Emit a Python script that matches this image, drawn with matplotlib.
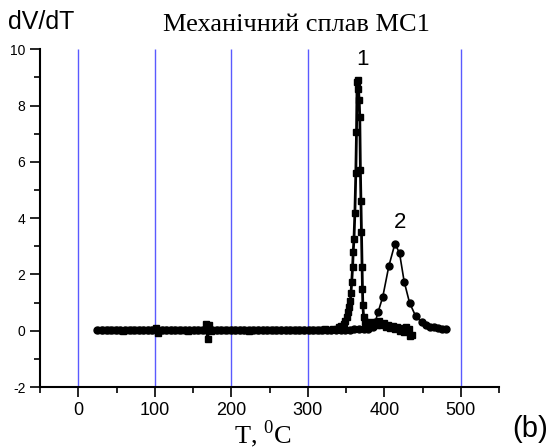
import numpy as np
import matplotlib
matplotlib.use('Agg')
import matplotlib.pyplot as plt
from matplotlib.ticker import MultipleLocator

# curve 1 (squares)
t1 = [28, 33, 38, 43, 48, 53, 58, 63, 68, 73, 78, 83, 88, 93, 98, 101, 104, 108, 113, 118,
      123, 128, 133, 138, 143, 148, 153, 158, 163, 167, 169, 171, 173, 178, 183, 188, 193, 198,
      203, 208, 213, 218, 223, 228, 233, 238, 243, 248, 253, 258, 263, 268, 273, 278, 283,
      288, 293, 298, 303, 308, 313, 318, 323, 328, 333, 338,
      341, 344, 347, 349, 351, 353, 354.5, 355.5, 356.5, 357.5, 358.6, 359.4, 360.4, 361.6,
      362.8, 363.7, 364.5, 365.3, 366.2, 367.2, 368, 368.8, 369.5, 370.2, 371, 371.5, 372,
      373, 375, 378, 381, 384, 387, 390, 393, 396, 399, 402, 405, 408, 411, 414, 417, 420,
      423, 426, 429, 432, 434, 436]
v1 = [0.02, 0.03, 0.02, 0.01, 0.03, 0.02, 0.0, 0.02, 0.03, 0.01, 0.02, 0.03, 0.01, 0.02, 0.04, 0.1, -0.08, 0.02, 0.01, 0.03,
      0.02, 0.01, 0.03, 0.02, 0.0, 0.02, 0.03, 0.01, 0.02, 0.25, -0.3, 0.2, 0.0, 0.02, 0.01, 0.03, 0.02, 0.01,
      0.02, 0.03, 0.01, 0.02, 0.0, 0.02, 0.03, 0.01, 0.02, 0.03, 0.01, 0.02, 0.02, 0.03, 0.01, 0.02, 0.03,
      0.02, 0.01, 0.03, 0.02, 0.03, 0.04, 0.02, 0.05, 0.04, 0.06, 0.08,
      0.12, 0.18, 0.25, 0.35, 0.48, 0.65, 0.85, 1.05, 1.35, 1.75, 2.27, 2.8, 3.26, 4.2,
      5.6, 7.05, 8.85, 8.9, 8.6, 8.2, 7.6, 5.7, 4.6, 3.5, 2.27, 1.5, 0.9,
      0.5, 0.3, 0.22, 0.32, 0.18, 0.28, 0.22, 0.33, 0.2, 0.26, 0.15, 0.22, 0.1, 0.16, 0.06, 0.13, 0.0,
      0.1, -0.05, 0.15, 0.05, -0.2, -0.15]

# curve 2 (circles)
t2 = [25, 31, 37, 43, 49, 55, 61, 67, 73, 79, 85, 91, 97, 103, 109, 115, 121, 127, 133, 139,
      145, 151, 157, 163, 169, 175, 181, 187, 193, 199, 205, 211, 217, 223, 229, 235, 241, 247,
      253, 259, 265, 271, 277, 283, 289, 295, 301, 307, 313, 319, 325, 331, 337, 343, 349,
      355, 361, 367, 373, 379, 385, 388, 392, 398, 406, 414, 420, 426, 433, 441, 449, 455,
      460, 465, 470, 475, 481]
v2 = [0.03, 0.02, 0.03, 0.02, 0.01, 0.03, 0.02, 0.02, 0.03, 0.01, 0.02, 0.03, 0.02, 0.02, 0.01, 0.03, 0.02, 0.02, 0.03, 0.01,
      0.02, 0.03, 0.02, 0.02, 0.01, 0.03, 0.02, 0.02, 0.03, 0.01, 0.02, 0.03, 0.02, 0.02, 0.01, 0.03, 0.02, 0.02,
      0.03, 0.01, 0.02, 0.03, 0.02, 0.02, 0.01, 0.03, 0.02, 0.02, 0.03, 0.02, 0.03, 0.02, 0.03, 0.04, 0.03,
      0.04, 0.05, 0.06, 0.07, 0.08, 0.12, 0.3, 0.67, 1.2, 2.3, 3.1, 2.75, 1.75, 1.0, 0.52, 0.3, 0.2,
      0.15, 0.12, 0.1, 0.08, 0.07]

grid_x = [0, 100, 200, 300, 500]

plt.rcParams['font.family'] = ['Liberation Sans', 'DejaVu Sans']
plt.rcParams['mathtext.fontset'] = 'custom'
plt.rcParams['mathtext.rm'] = 'Liberation Serif'
plt.rcParams['axes.unicode_minus'] = False

fig = plt.figure(figsize=(5.56, 4.48), dpi=100)
ax = fig.add_axes([0.072, 0.136, 0.8255, 0.754])

ax.vlines(grid_x, -2, 10, colors='#5a5aff', linewidth=1, zorder=1)

ax.plot(t1, v1, '-', color='black', marker='s', markersize=4.5, linewidth=2, zorder=3)
ax.plot(t2, v2, '-', color='black', marker='o', markersize=5, linewidth=1.2, zorder=2)

ax.set_xlim(-50, 550)
ax.set_ylim(-2, 10)
ax.xaxis.set_major_locator(MultipleLocator(100))
ax.xaxis.set_minor_locator(MultipleLocator(50))
ax.yaxis.set_major_locator(MultipleLocator(2))
ax.yaxis.set_minor_locator(MultipleLocator(1))
ax.tick_params(which='major', direction='out', length=7, width=1.2)
ax.tick_params(which='minor', direction='out', length=4, width=1.2)
ax.tick_params(axis='x', labelsize=13)
ax.tick_params(axis='y', labelsize=10)
for s in ['top', 'right']:
    ax.spines[s].set_visible(False)
for s in ['left', 'bottom']:
    ax.spines[s].set_linewidth(1.5)

ax.text(372, 9.65, '1', fontsize=16, ha='center', va='center')
ax.text(420, 3.85, '2', fontsize=16, ha='center', va='center')

fig.text(0.015, 0.95, 'dV/dT', fontsize=18, ha='left', va='center')
fig.text(0.534, 0.945, 'Механічний сплав МС1', fontsize=19, family='Liberation Serif', ha='center', va='center')
fig.text(0.472, 0.032, r'T, $^{0}$C', fontsize=19, family='Liberation Serif', ha='center', va='center')
fig.text(0.953, 0.042, '(b)', fontsize=21, ha='center', va='center')

fig.savefig('out.png', dpi=100, facecolor='white')
